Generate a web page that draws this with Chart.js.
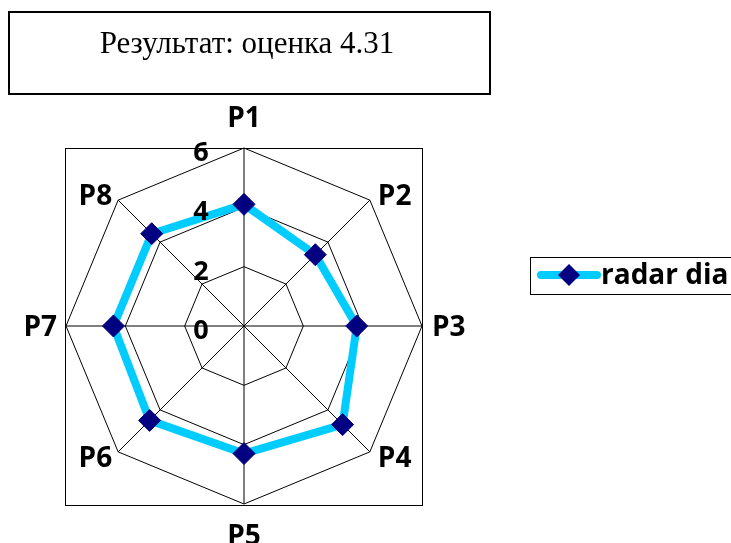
<!DOCTYPE html>
<html>
<head>
<meta charset="utf-8">
<script src="https://cdn.jsdelivr.net/npm/chart.js@4"></script>
<style>
  html, body { margin: 0; padding: 0; background: #fff; }
  #wrap { position: relative; width: 731px; height: 543px; }
</style>
</head>
<body>
<div id="wrap"><canvas id="radarChart" width="731" height="543"></canvas></div>
<script>
const categories = ['P1', 'P2', 'P3', 'P4', 'P5', 'P6', 'P7', 'P8'];
const scoreValues = [4.1, 3.4, 3.8, 4.7, 4.3, 4.5, 4.4, 4.4];
const tickValues = [0, 2, 4, 6];
const seriesName = 'radar dia';
const titleText = 'Результат: оценка 4.31';

const lineColor = '#00CCFF';
const markerColor = '#000080';
const labelFont = 'bold 28px "Open Sans"';

// title box, plot frame, tick labels, point labels and legend
const decorPlugin = {
    id: 'decor',
    beforeDatasetsDraw(chart) {
        const ctx = chart.ctx;
        const r = chart.scales.r;
        const R = r.drawingArea;
        ctx.save();
        ctx.strokeStyle = '#000';
        ctx.lineWidth = 1;
        ctx.strokeRect(r.xCenter - R - 0.5, r.yCenter - R + 0.5, 2 * R + 1, 2 * R + 1);
        ctx.restore();
    },
    afterDraw(chart) {
        const ctx = chart.ctx;
        const r = chart.scales.r;
        ctx.save();

        // title box
        ctx.strokeStyle = '#000';
        ctx.lineWidth = 2;
        ctx.strokeRect(9, 12, 481, 82);
        ctx.fillStyle = '#000';
        ctx.font = '31px "Liberation Serif"';
        ctx.textAlign = 'center';
        ctx.textBaseline = 'alphabetic';
        ctx.fillText(titleText, 247, 53);

        // tick labels left of the P1 axis
        ctx.font = 'bold 27px "Open Sans"';
        tickValues.forEach(v => {
            const d = r.getDistanceFromCenterForValue(v);
            ctx.fillText(String(v), r.xCenter - 43, r.yCenter - d + 3 + 10);
        });

        // point labels
        ctx.font = labelFont;
        const capHalf = 10;
        categories.forEach((label, i) => {
            const diag = i % 2 === 1;
            const p = r.getPointPosition(i, diag ? 185 : (i % 4 === 0 ? 209 : 187));
            let x = p.x;
            if (i === 0 || i === 4) {
                ctx.textAlign = 'center';
            } else if (i < 4) {
                ctx.textAlign = 'left';
                x += diag ? 3 : 1;
            } else {
                ctx.textAlign = 'right';
                x -= diag ? 1 : 0;
            }
            ctx.fillText(label, x, p.y + capHalf);
        });

        // legend
        ctx.lineWidth = 1;
        ctx.strokeRect(530.5, 257.5, 240, 37);
        ctx.strokeStyle = lineColor;
        ctx.lineWidth = 8;
        ctx.lineCap = 'round';
        ctx.beginPath();
        ctx.moveTo(541, 275);
        ctx.lineTo(597, 275);
        ctx.stroke();
        ctx.fillStyle = markerColor;
        ctx.beginPath();
        ctx.moveTo(569, 264);
        ctx.lineTo(580, 275);
        ctx.lineTo(569, 286);
        ctx.lineTo(558, 275);
        ctx.closePath();
        ctx.fill();
        ctx.fillStyle = '#000';
        ctx.textAlign = 'left';
        ctx.font = labelFont;
        ctx.fillText(seriesName, 601, 284);

        ctx.restore();
    }
};

new Chart(document.getElementById('radarChart'), {
    type: 'radar',
    data: {
        labels: categories,
        datasets: [{
            label: seriesName,
            data: scoreValues,
            borderColor: lineColor,
            borderWidth: 8,
            borderJoinStyle: 'round',
            fill: false,
            pointStyle: 'rectRot',
            pointRadius: 11,
            pointBackgroundColor: markerColor,
            pointBorderColor: markerColor,
            pointBorderWidth: 1
        }]
    },
    options: {
        responsive: false,
        animation: false,
        layout: {
            padding: { left: 66, top: 148, right: 308, bottom: 38 }
        },
        plugins: {
            legend: { display: false },
            tooltip: { enabled: false }
        },
        scales: {
            r: {
                min: 0,
                max: 6,
                ticks: { stepSize: 2, display: false },
                pointLabels: { display: false },
                grid: { color: '#000', lineWidth: 1 },
                angleLines: { color: '#000', lineWidth: 1 }
            }
        }
    },
    plugins: [decorPlugin]
});
</script>
</body>
</html>
